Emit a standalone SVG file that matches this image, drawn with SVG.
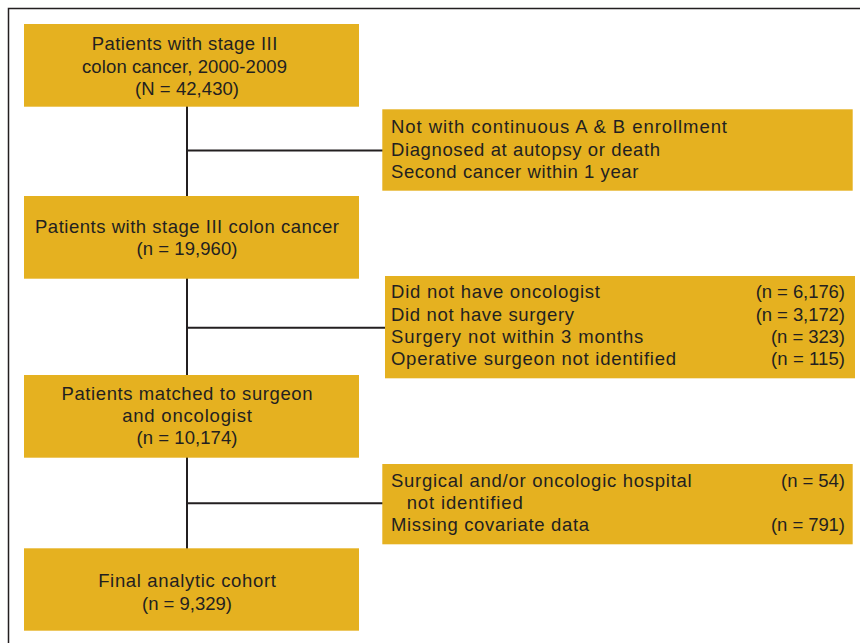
<svg xmlns="http://www.w3.org/2000/svg" width="860" height="643" viewBox="0 0 860 643">
<style>
.box{fill:#E5B120;}
.t{font-family:"Liberation Sans",Arial,sans-serif;font-size:18.5px;fill:#231F20;}
.c{text-anchor:middle;}
.r{text-anchor:end;}
.conn{stroke:#231F20;stroke-width:2;fill:none;}
.frame{stroke:#231F20;stroke-width:1.5;fill:none;}
</style>
<rect width="860" height="643" fill="#FFFFFF"/>
<path class="frame" d="M8.5,643 V8.5 H860"/>
<g id="connectors">
<line class="conn" x1="187" y1="106" x2="187" y2="197"/>
<line class="conn" x1="187" y1="278" x2="187" y2="376"/>
<line class="conn" x1="187" y1="457" x2="187" y2="549"/>
<line class="conn" x1="187" y1="150.5" x2="383" y2="150.5"/>
<line class="conn" x1="187" y1="327.7" x2="386" y2="327.7"/>
<line class="conn" x1="187" y1="503.3" x2="383" y2="503.3"/>
</g>
<g id="node-start">
<rect class="box" x="24" y="24" width="335" height="82.7"/>
<text class="t c" x="184.5" y="50.3" textLength="185.6" lengthAdjust="spacing">Patients with stage III</text>
<text class="t c" x="184.5" y="72.5" textLength="205" lengthAdjust="spacing">colon cancer, 2000-2009</text>
<text class="t c" x="187" y="94.7" textLength="104" lengthAdjust="spacing">(N = 42,430)</text>
</g>
<g id="node-excl1">
<rect class="box" x="382.3" y="109.3" width="470.4" height="81.4"/>
<text class="t" x="391" y="133.3" textLength="336" lengthAdjust="spacing">Not with continuous A &amp; B enrollment</text>
<text class="t" x="391" y="155.7" textLength="269" lengthAdjust="spacing">Diagnosed at autopsy or death</text>
<text class="t" x="391" y="177.7" textLength="247.3" lengthAdjust="spacing">Second cancer within 1 year</text>
</g>
<g id="node-stage3">
<rect class="box" x="24" y="196" width="335" height="82.7"/>
<text class="t c" x="187" y="233.3" textLength="304" lengthAdjust="spacing">Patients with stage III colon cancer</text>
<text class="t c" x="187" y="255.3" textLength="101" lengthAdjust="spacing">(n = 19,960)</text>
</g>
<g id="node-excl2">
<rect class="box" x="385" y="276" width="470" height="102.3"/>
<text class="t" x="391" y="298.3" textLength="209" lengthAdjust="spacing">Did not have oncologist</text>
<text class="t r" x="845" y="298.3" textLength="89.3" lengthAdjust="spacing">(n = 6,176)</text>
<text class="t" x="391" y="320.7" textLength="183" lengthAdjust="spacing">Did not have surgery</text>
<text class="t r" x="845" y="320.7" textLength="89.3" lengthAdjust="spacing">(n = 3,172)</text>
<text class="t" x="391" y="343.3" textLength="252.3" lengthAdjust="spacing">Surgery not within 3 months</text>
<text class="t r" x="845" y="343.3" textLength="74" lengthAdjust="spacing">(n = 323)</text>
<text class="t" x="391" y="365" textLength="285" lengthAdjust="spacing">Operative surgeon not identified</text>
<text class="t r" x="845" y="365" textLength="74" lengthAdjust="spacing">(n = 115)</text>
</g>
<g id="node-matched">
<rect class="box" x="24" y="375" width="335" height="82.7"/>
<text class="t c" x="187" y="400" textLength="251" lengthAdjust="spacing">Patients matched to surgeon</text>
<text class="t c" x="187" y="422.3" textLength="129.6" lengthAdjust="spacing">and oncologist</text>
<text class="t c" x="187" y="444.3" textLength="101" lengthAdjust="spacing">(n = 10,174)</text>
</g>
<g id="node-excl3">
<rect class="box" x="382.3" y="464" width="470.4" height="80.3"/>
<text class="t" x="391" y="486.7" textLength="300.7" lengthAdjust="spacing">Surgical and/or oncologic hospital</text>
<text class="t r" x="845" y="486.7" textLength="64" lengthAdjust="spacing">(n = 54)</text>
<text class="t" x="406.7" y="509.3" textLength="116" lengthAdjust="spacing">not identified</text>
<text class="t" x="391" y="531" textLength="198" lengthAdjust="spacing">Missing covariate data</text>
<text class="t r" x="845" y="531" textLength="74" lengthAdjust="spacing">(n = 791)</text>
</g>
<g id="node-final">
<rect class="box" x="24" y="548.3" width="335" height="82.4"/>
<text class="t c" x="187" y="587.3" textLength="177.7" lengthAdjust="spacing">Final analytic cohort</text>
<text class="t c" x="187" y="609.7" textLength="90" lengthAdjust="spacing">(n = 9,329)</text>
</g>
</svg>
